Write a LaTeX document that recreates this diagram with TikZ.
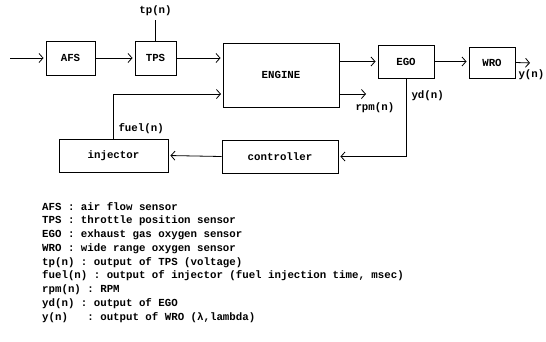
\documentclass[tikz,border=0pt]{standalone}
\usepackage{fontspec}
\setmonofont{Liberation Mono}
\usetikzlibrary{arrows.meta, positioning}

\begin{document}
\begin{tikzpicture}[
  x=1bp, y=-1bp,
  every node/.style={font=\ttfamily\bfseries\fontsize{10.8}{13.8}\selectfont},
  block/.style={draw, line width=0.9bp, inner sep=0pt},
  sig/.style={line width=0.8bp, shorten >=2bp, -{Straight Barb[length=4bp, width=9bp, line width=0.8bp]}},
  wire/.style={line width=0.8bp}
]
\useasboundingbox (0,0) rectangle (546,341);

\node [block, minimum width=49bp, minimum height=34bp] (afs) at (70.5,58) {AFS};
\node [block, minimum width=41bp, minimum height=34bp] (tps) at (155.5,58) {TPS};
\node [block, minimum width=116bp, minimum height=64bp] (engine) at (281,75) {ENGINE};
\node [block, minimum width=56bp, minimum height=33bp] (ego) at (406,61.5) {EGO};
\node [block, minimum width=46bp, minimum height=31bp] (wro) at (492,62.5) {WRO};
\node [block, minimum width=109bp, minimum height=33bp] (injector) at (113.5,155.5) {injector};
\node [block, minimum width=116bp, minimum height=33bp] (controller) at (280,156.5) {controller};

\coordinate (airin) at (10,58);
\coordinate (tptop) at (155.5,20);
\coordinate (fuelin) at (223,94);
\coordinate (rpmout) at (368,94);
\coordinate (yout) at (532,63);

\draw [sig] (airin) -- (afs.west);
\draw [sig] (afs.east) -- (tps.west);
\draw [wire] (tps.north) -- (tptop) node [above=1bp] {tp(n)};
\draw [sig] (tps.east) -- (tps.east -| engine.west);
\draw [sig] (injector.north) |- (fuelin);
\node [anchor=south west] at (115,137) {fuel(n)};
\draw [sig] (engine.east |- ego.west) -- (ego.west);
\draw [sig] (engine.east |- rpmout) -- (rpmout);
\node [anchor=north west] at (352,99) {rpm(n)};
\draw [sig] (ego.east) -- (ego.east -| wro.west);
\draw [sig] (wro.east) -- (yout);
\node [anchor=north west] at (515,66) {y(n)};
\draw [sig] (ego.south) |- (controller.east);
\node [anchor=west] at (408,96) {yd(n)};
\draw [sig] (controller.west) -- (injector.east);

\node [anchor=north west, align=left, inner sep=0pt] (legend) at (42,202) {%
AFS : air flow sensor\\
TPS : throttle position sensor\\
EGO : exhaust gas oxygen sensor\\
WRO : wide range oxygen sensor\\
tp(n) : output of TPS (voltage)\\
fuel(n) : output of injector (fuel injection time, msec)\\
rpm(n) : RPM\\
yd(n) : output of EGO\\
y(n)\ \ \ : output of WRO (λ,lambda)};

\end{tikzpicture}
\end{document}
